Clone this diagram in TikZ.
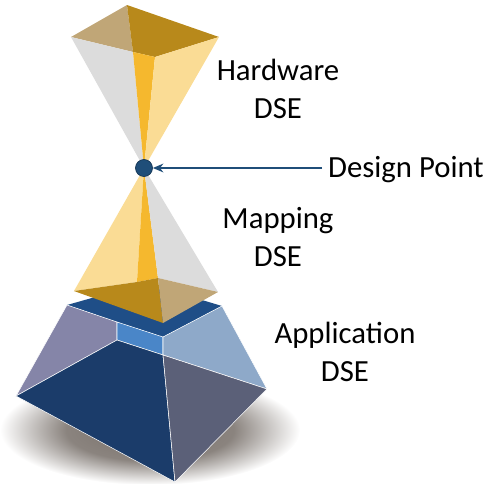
\documentclass[tikz,border=0pt]{standalone}
\usepackage{fontspec}
\setmainfont{Carlito}
\usepackage{tikz}
\usetikzlibrary{arrows.meta}

\definecolor{sand}{HTML}{C0A677}
\definecolor{darkgold}{HTML}{B8891B}
\definecolor{amber}{HTML}{F5B82E}
\definecolor{paleyellow}{HTML}{FADC95}
\definecolor{lightgrey}{HTML}{DCDCDC}
\definecolor{topblue}{HTML}{1F4E87}
\definecolor{lilac}{HTML}{8585A8}
\definecolor{midblue}{HTML}{4A86C8}
\definecolor{skyblue}{HTML}{8EA9C9}
\definecolor{deepnavy}{HTML}{1B3C6A}
\definecolor{slate}{HTML}{5B6078}
\definecolor{pointblue}{HTML}{1F4E79}
\definecolor{shadowgrey}{RGB}{118,110,104}

\pgfdeclareradialshading{baseshadow}{\pgfpoint{0bp}{0bp}}{%
  color(0bp)=(shadowgrey); color(14bp)=(shadowgrey!85!white);
  color(25bp)=(white); color(50bp)=(white)}

\begin{document}
\begin{tikzpicture}[x=0.02cm,y=-0.02cm,
    goldface/.style={line join=round},
    blueface/.style={draw=white,line width=0.3pt,line join=round},
    dselabel/.style={align=center,font=\fontsize{17.5}{21.5}\selectfont},
    >={Stealth[length=6pt,width=5pt]}
  ]
  \useasboundingbox (0,0) rectangle (495,484);

  \shade[shading=baseshadow] (150,430) ellipse [x radius=150,y radius=55];

  \coordinate (O) at (144,168);

  \coordinate (B1) at (67,305);
  \coordinate (Bk) at (145,283);
  \coordinate (B2) at (222,306);
  \coordinate (B3) at (117,322);
  \coordinate (B4) at (163,337);
  \coordinate (B5) at (117,340);
  \coordinate (B6) at (163,355);
  \coordinate (B7) at (16,396);
  \coordinate (B8) at (267,389);
  \coordinate (B9) at (175,482);
  \fill[topblue] (B1) -- (Bk) -- (B2) -- (B4) -- (B3) -- cycle;
  \filldraw[blueface,fill=lilac] (B1) -- (B3) -- (B5) -- (B7) -- cycle;
  \filldraw[blueface,fill=midblue] (B3) -- (B4) -- (B6) -- (B5) -- cycle;
  \filldraw[blueface,fill=skyblue] (B4) -- (B2) -- (B8) -- (B6) -- cycle;
  \filldraw[blueface,fill=deepnavy] (B5) -- (B6) -- (B9) -- (B7) -- cycle;
  \filldraw[blueface,fill=slate] (B6) -- (B8) -- (B9) -- cycle;

  \coordinate (M1) at (74,291);
  \coordinate (M2) at (137,282);
  \coordinate (M3) at (158,278);
  \coordinate (M4) at (218,292);
  \coordinate (M5) at (163,323);
  \fill[goldface,paleyellow] (O) -- (M1) -- (M2) -- cycle;
  \fill[goldface,amber] (O) -- (M2) -- (M3) -- cycle;
  \fill[goldface,lightgrey] (O) -- (M3) -- (M4) -- cycle;
  \fill[goldface,darkgold] (M1) -- (M2) -- (M3) -- (M5) -- cycle;
  \fill[goldface,sand] (M3) -- (M4) -- (M5) -- cycle;

  \coordinate (H1) at (127,5);
  \coordinate (H2) at (71,37);
  \coordinate (H3) at (133,52);
  \coordinate (H4) at (155,57);
  \coordinate (H5) at (219,37);
  \fill[goldface,sand] (H1) -- (H2) -- (H3) -- cycle;
  \fill[goldface,darkgold] (H1) -- (H3) -- (H4) -- (H5) -- cycle;
  \fill[goldface,lightgrey] (H2) -- (H3) -- (O) -- cycle;
  \fill[goldface,amber] (H3) -- (H4) -- (O) -- cycle;
  \fill[goldface,paleyellow] (H4) -- (H5) -- (O) -- cycle;

  \node[circle,inner sep=0pt,minimum size=0.34cm,fill=pointblue,draw=pointblue!70!black] (pt) at (O) {};

  \node[dselabel] (hw) at (278,89) {Hardware\\DSE};
  \node[dselabel] (map) at (278,237) {Mapping\\DSE};
  \node[dselabel] (app) at (345,352) {Application\\DSE};
  \node[dselabel,anchor=base] (dp) at (406,177) {Design Point};
  \draw[->,pointblue,line width=0.9pt] (pt.east -| dp.west) -- (pt.east);
\end{tikzpicture}
\end{document}
